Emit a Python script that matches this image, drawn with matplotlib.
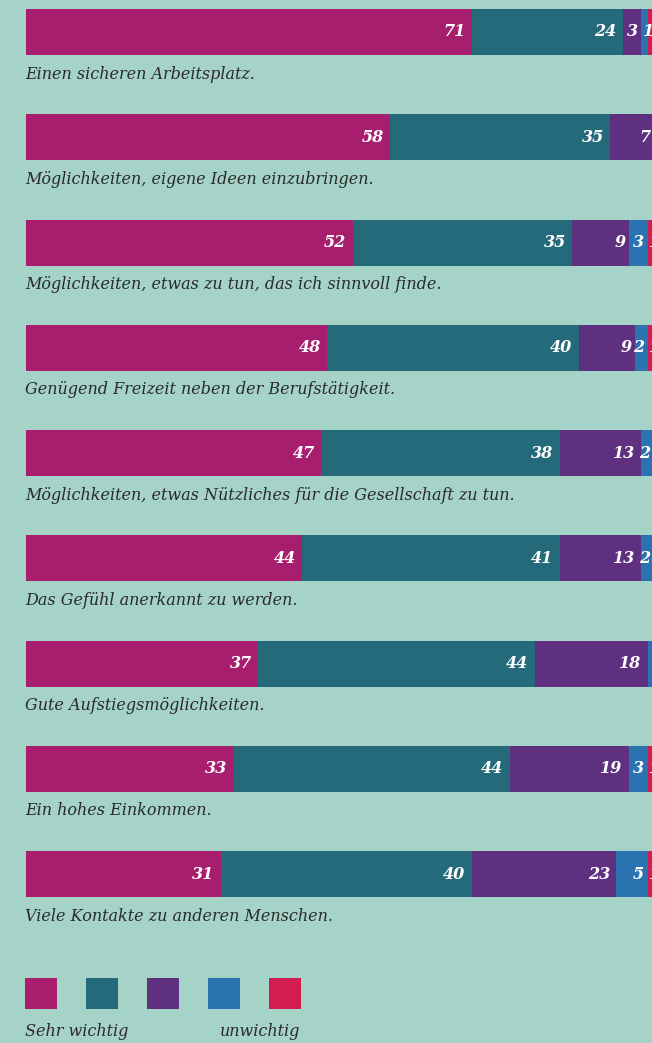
import matplotlib.pyplot as plt
from matplotlib.patches import Rectangle

# answers per item, in percent (Sehr wichtig ... unwichtig)
items = [
    "Einen sicheren Arbeitsplatz.",
    "Möglichkeiten, eigene Ideen einzubringen.",
    "Möglichkeiten, etwas zu tun, das ich sinnvoll finde.",
    "Genügend Freizeit neben der Berufstätigkeit.",
    "Möglichkeiten, etwas Nützliches für die Gesellschaft zu tun.",
    "Das Gefühl anerkannt zu werden.",
    "Gute Aufstiegsmöglichkeiten.",
    "Ein hohes Einkommen.",
    "Viele Kontakte zu anderen Menschen.",
]
sehr_wichtig = [71, 58, 52, 48, 47, 44, 37, 33, 31]
wichtig = [24, 35, 35, 40, 38, 41, 44, 44, 40]
mittel = [3, 7, 9, 9, 13, 13, 18, 19, 23]
weniger = [1, 0, 3, 2, 2, 2, 3, 3, 5]
unwichtig = [1, 0, 1, 1, 0, 0, 1, 1, 1]
series = [sehr_wichtig, wichtig, mittel, weniger, unwichtig]
colors = ["#A81E6E", "#256A7B", "#5F3080", "#2A72B0", "#D11D50"]

bg = "#A5D3C8"
txt = "#2a2a2a"
W, H = 652, 1043
px_per_unit = 6.28
x0_px = 26
row_px = 105.25
row0_px = 32

fig = plt.figure(figsize=(W / 100, H / 100), dpi=100)
fig.patch.set_facecolor(bg)
ax = fig.add_axes([0, 0, 1, 1])
ax.set_facecolor(bg)
ax.set_xlim(-x0_px / px_per_unit, (W - x0_px) / px_per_unit)
ax.set_ylim((H - row0_px) / row_px, -row0_px / row_px)
ax.axis("off")

bar_h = 46 / row_px
for i, label in enumerate(items):
    left = 0
    for vals, c in zip(series, colors):
        v = vals[i]
        if v == 0:
            continue
        ax.barh(i, v, left=left, height=bar_h, color=c, linewidth=0)
        if v == 1:
            pos, off, ha = left, 1, "left"
        else:
            pos, off, ha = left + v, (-4.5 if v >= 10 else -2.5), "right"
        ax.annotate(str(v), (pos, i), xytext=(off, 0), textcoords="offset points",
                    ha=ha, va="center", color="white", fontsize=11.5,
                    family="DejaVu Serif", style="italic", weight="bold",
                    annotation_clip=False)
        left += v
    ax.text(-0.1, i + 0.40, label, ha="left", va="center", fontsize=11.5,
            family="DejaVu Serif", style="italic", color=txt)

# legend keys
for k, c in enumerate(colors):
    fig.add_artist(Rectangle(((25 + 61 * k) / W, 1 - 1009 / H), 32 / W, 31 / H,
                             transform=fig.transFigure, color=c, linewidth=0))
fig.text(25 / W, 1 - 1032 / H, "Sehr wichtig", ha="left", va="center", fontsize=11.5,
         family="DejaVu Serif", style="italic", color=txt)
fig.text(220 / W, 1 - 1032 / H, "unwichtig", ha="left", va="center", fontsize=11.5,
         family="DejaVu Serif", style="italic", color=txt)

fig.savefig("out.png", dpi=100, facecolor=bg)
